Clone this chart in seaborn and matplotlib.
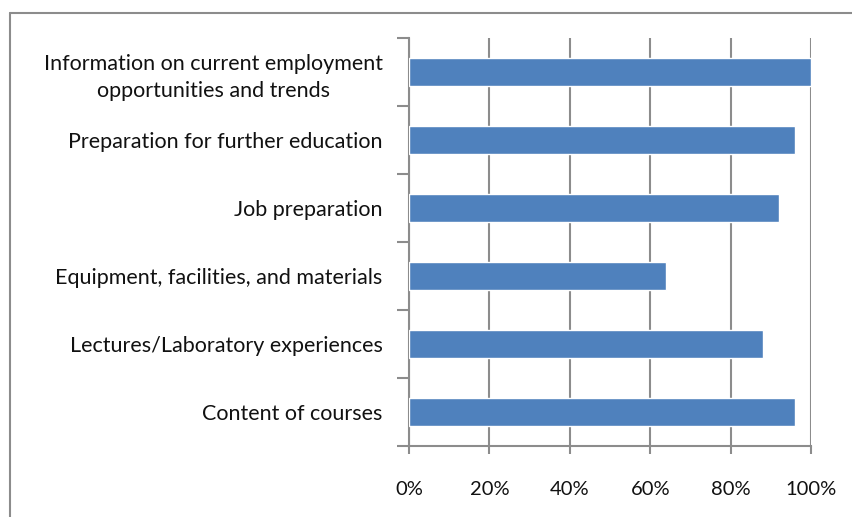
import matplotlib
matplotlib.use("Agg")
import matplotlib.pyplot as plt
import seaborn as sns
import pandas as pd
import numpy as np
from matplotlib.lines import Line2D

categories = [
    "Information on current employment\nopportunities and trends",
    "Preparation for further education",
    "Job preparation",
    "Equipment, facilities, and materials",
    "Lectures/Laboratory experiences",
    "Content of courses",
]
values = [100, 96, 92, 64, 88, 96]
x_ticks = [0, 20, 40, 60, 80, 100]
x_tick_labels = ["0%", "20%", "40%", "60%", "80%", "100%"]

df = pd.DataFrame({"category": categories, "value": values})

sns.set_theme(style="white")
plt.rcParams["font.family"] = ["Lato", "DejaVu Sans"]

grid_color = "#8c8c8c"
bar_color = "#4f81bd"
text_color = "#111111"

fig = plt.figure(figsize=(8.52, 5.17), dpi=100)
ax = fig.add_axes([409 / 852, 1 - 446 / 517, (811 - 409) / 852, (446 - 38) / 517])

sns.barplot(data=df, x="value", y="category", orient="h", color=bar_color,
            width=0.42, saturation=1, ax=ax, zorder=3)

ax.set_xlim(0, 100)
ax.set_ylim(len(categories) - 0.5, -0.5)
ax.set_xlabel("")
ax.set_ylabel("")

# vertical gridlines
ax.set_xticks(x_ticks)
ax.set_xticklabels(x_tick_labels, fontsize=14.5, color=text_color)
ax.xaxis.grid(True, color=grid_color, linewidth=1.5, zorder=1)
ax.set_axisbelow(True)
ax.tick_params(axis="x", direction="out", length=6, width=1.5, color=grid_color,
               pad=19, bottom=True)

# category boundaries as major ticks, names as minor labels at centers
pos = np.arange(len(categories))
ax.set_yticks(np.arange(len(categories) + 1) - 0.5)
ax.set_yticklabels([""] * (len(categories) + 1))
ax.set_yticks(pos, minor=True)
ax.set_yticklabels(categories, minor=True, fontsize=15.5, color=text_color,
                   ha="right", multialignment="center", linespacing=1.45)
ax.tick_params(axis="y", which="major", direction="out", length=9, width=1.5,
               color=grid_color, left=True)
ax.tick_params(axis="y", which="minor", length=0, pad=19)

for s in ["top", "right"]:
    ax.spines[s].set_visible(False)
for s in ["left", "bottom"]:
    ax.spines[s].set_color(grid_color)
    ax.spines[s].set_linewidth(1.5)

# outer chart frame (left and top edges)
fig.add_artist(Line2D([10 / 852, 10 / 852], [0, 1 - 13 / 517], color=grid_color,
                      linewidth=1.5, transform=fig.transFigure))
fig.add_artist(Line2D([10 / 852, 1], [1 - 13 / 517, 1 - 13 / 517], color=grid_color,
                      linewidth=1.5, transform=fig.transFigure))

fig.savefig("out.png", dpi=100)
